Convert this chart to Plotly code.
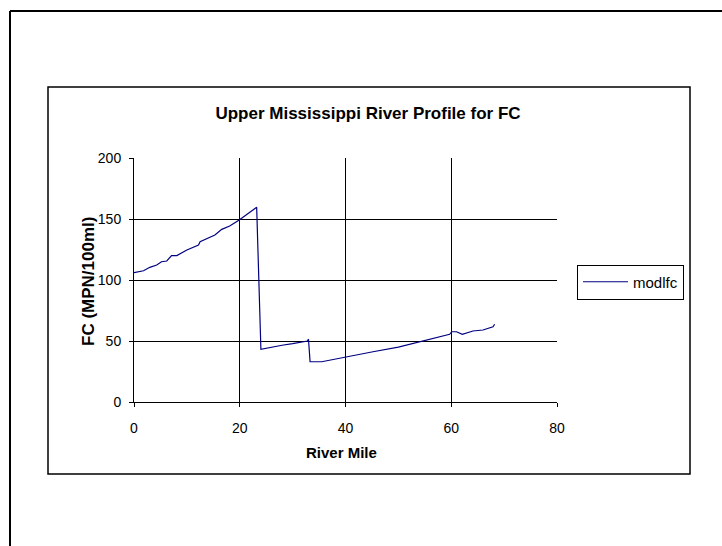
import plotly.graph_objects as go

# Data
river_mile = [0, 1.8, 3.0, 4.3, 5.2, 6.2, 7.1, 8.1, 10.0, 12.2, 12.5, 15.3, 16.6, 18.1, 19.9, 23.2,
              24.0, 26.0, 28.0, 30.0, 32.8, 33.0, 33.3, 35.5, 40.1, 45.2, 50.0, 53.4, 54.1, 57.8,
              59.7, 60.1, 61.0, 62.1, 64.1, 66.0, 67.9, 68.2]
modlfc = [106, 107.6, 110.4, 112.3, 115, 115.6, 120, 120, 124.6, 128.7, 131.4, 136.9, 141.5, 144.3, 149.2, 159.6,
          43.2, 45.0, 46.5, 47.8, 50.0, 51.5, 33.0, 33.0, 37.1, 41.2, 45.0, 48.9, 49.4, 53.5,
          55.5, 57.6, 57.6, 55.5, 58.2, 59.0, 61.7, 63.7]
x_ticks = [0, 20, 40, 60, 80]
y_ticks = [0, 50, 100, 150, 200]

W, H = 722, 546
L, R, T, B = 134, 557, 158, 402  # plot area in pixels
pw, ph = R - L, B - T


def px(x):
    return (x - L) / pw


def py(y):
    return (B - y) / ph


fig = go.Figure()
fig.add_trace(go.Scatter(x=river_mile, y=modlfc, mode="lines", name="modlfc",
                         line=dict(color="#000080", width=1.2)))

font = "Liberation Sans, Arial, sans-serif"
axis_common = dict(showgrid=True, gridcolor="#000000", gridwidth=1, showline=True, linecolor="#000000",
                   linewidth=1, ticks="outside", ticklen=4, tickcolor="#000000", zeroline=False,
                   mirror=False)

fig.update_layout(
    width=W, height=H,
    margin=dict(l=L, r=W - R, t=T, b=H - B, pad=0),
    paper_bgcolor="white", plot_bgcolor="white",
    xaxis=dict(range=[0, 80], tickvals=x_ticks, ticklabelstandoff=9,
               tickfont=dict(family=font, size=14, color="#000000"), **axis_common),
    yaxis=dict(range=[0, 200], tickvals=y_ticks, ticklabelstandoff=5,
               tickfont=dict(family=font, size=14, color="#000000"), **axis_common),
    title=dict(text="<b>Upper Mississippi River Profile for FC</b>", x=368 / W, xref="container",
               xanchor="center", y=1 - 113 / H, yref="container", yanchor="middle",
               font=dict(family=font, size=17, color="#000000")),
    showlegend=True,
    legend=dict(x=px(577), y=py(282), xanchor="left", yanchor="middle", bordercolor="#000000", borderwidth=1,
                bgcolor="white", font=dict(family=font, size=15, color="#000000"),
                itemwidth=45),
    annotations=[
        dict(text="<b>River Mile</b>", x=px(341), y=py(452), xref="paper", yref="paper", showarrow=False,
             xanchor="center", yanchor="middle", font=dict(family=font, size=15, color="#000000")),
        dict(text="<b>FC (MPN/100ml)</b>", x=px(88), y=py(282), xref="paper", yref="paper", showarrow=False,
             xanchor="center", yanchor="middle", textangle=-90, font=dict(family=font, size=17, color="#000000")),
    ],
    shapes=[
        # outer frame (top and left edges visible)
        dict(type="line", xref="paper", yref="paper", x0=px(10), x1=px(722), y0=py(11), y1=py(11),
             line=dict(color="#000000", width=2)),
        dict(type="line", xref="paper", yref="paper", x0=px(10), x1=px(10), y0=py(11), y1=py(546),
             line=dict(color="#000000", width=2)),
        # chart area frame
        dict(type="rect", xref="paper", yref="paper", x0=px(48), x1=px(690), y0=py(87), y1=py(474),
             line=dict(color="#000000", width=1.5)),
    ],
)

fig.write_html("out.html")
